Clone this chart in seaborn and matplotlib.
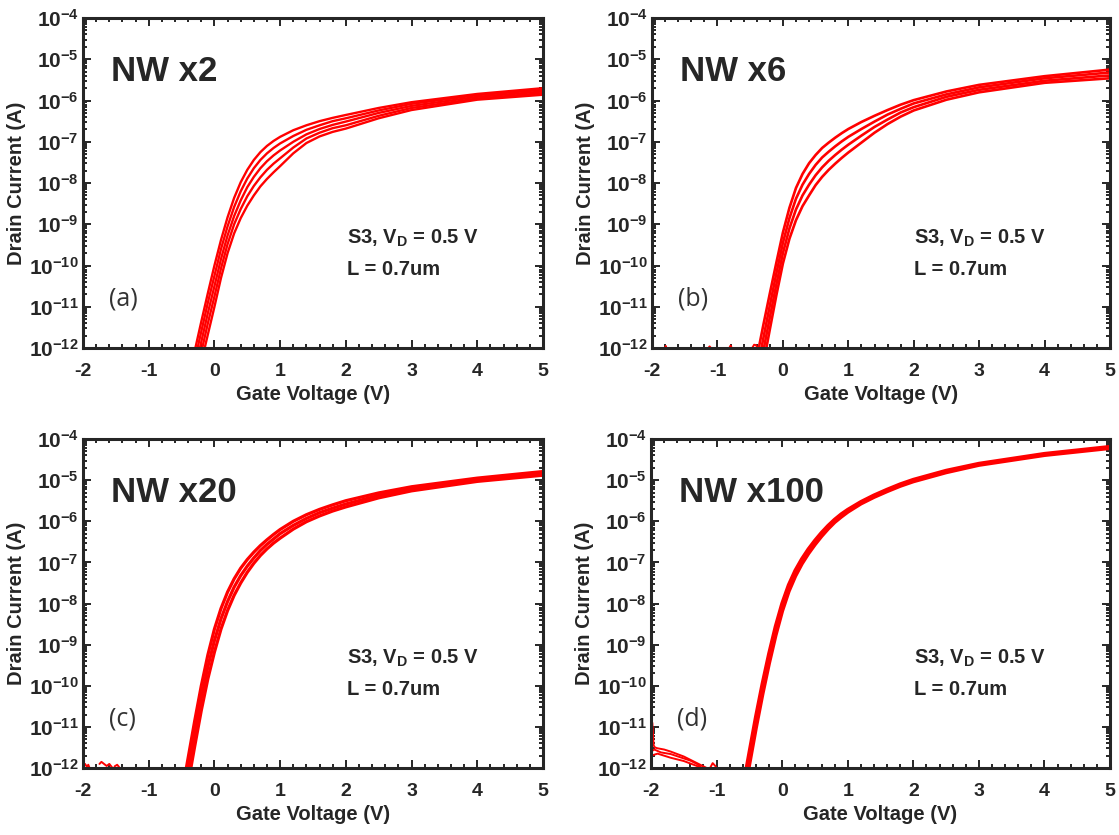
import numpy as np
import pandas as pd
import seaborn as sns
import matplotlib.pyplot as plt
from matplotlib.ticker import LogLocator, MultipleLocator, NullFormatter

# gate voltage grid (V) shared by all transfer curves
vg = [-0.6, -0.5, -0.4, -0.3, -0.2, -0.1, 0, 0.1, 0.2, 0.3, 0.4, 0.5, 0.6, 0.7,
      0.8, 0.9, 1.0, 1.2, 1.4, 1.6, 1.8, 2.0, 2.5, 3, 4, 5]

# log10 of drain current (A), a few curves
nw2_curves = [
    [-14.2, -13.5, -12.8, -12.07, -11.36, -10.67, -10.0, -9.38, -8.83, -8.36, -7.98, -7.68, -7.44,
     -7.25, -7.1, -6.98, -6.88, -6.72, -6.6, -6.5, -6.42, -6.35, -6.18, -6.04, -5.84, -5.70],
    [-14.45, -13.75, -13.05, -12.3, -11.6, -10.9, -10.25, -9.6, -9.05, -8.58, -8.2, -7.89, -7.64,
     -7.44, -7.28, -7.15, -7.04, -6.86, -6.71, -6.6, -6.5, -6.43, -6.24, -6.08, -5.87, -5.74],
    [-14.7, -14.0, -13.3, -12.55, -11.85, -11.15, -10.5, -9.84, -9.27, -8.8, -8.42, -8.1, -7.85,
     -7.64, -7.47, -7.33, -7.21, -7.0, -6.82, -6.69, -6.59, -6.51, -6.3, -6.13, -5.91, -5.78],
    [-14.95, -14.25, -13.55, -12.8, -12.1, -11.4, -10.75, -10.07, -9.48, -9.0, -8.63, -8.32, -8.07,
     -7.86, -7.68, -7.53, -7.4, -7.14, -6.92, -6.78, -6.67, -6.6, -6.37, -6.18, -5.95, -5.82],
    [-15.2, -14.5, -13.8, -13.05, -12.35, -11.67, -11.0, -10.3, -9.7, -9.22, -8.85, -8.55, -8.3,
     -8.08, -7.9, -7.74, -7.59, -7.28, -7.03, -6.87, -6.76, -6.68, -6.43, -6.23, -5.98, -5.86],
]
nw6_curves = [
    [-14.0, -13.1, -12.25, -11.45, -10.68, -9.93, -9.2, -8.6, -8.12, -7.78, -7.52, -7.32, -7.15,
     -7.02, -6.9, -6.79, -6.69, -6.52, -6.37, -6.23, -6.1, -5.99, -5.78, -5.62, -5.41, -5.25],
    [-14.37, -13.47, -12.6, -11.77, -10.97, -10.19, -9.45, -8.85, -8.38, -8.04, -7.78, -7.56, -7.38,
     -7.24, -7.11, -6.99, -6.88, -6.69, -6.51, -6.34, -6.2, -6.07, -5.85, -5.68, -5.46, -5.32],
    [-14.73, -13.83, -12.95, -12.08, -11.26, -10.46, -9.7, -9.1, -8.64, -8.3, -8.04, -7.81, -7.62,
     -7.46, -7.32, -7.19, -7.07, -6.85, -6.64, -6.46, -6.29, -6.16, -5.91, -5.74, -5.52, -5.39],
    [-15.1, -14.2, -13.3, -12.4, -11.55, -10.72, -9.95, -9.35, -8.9, -8.56, -8.3, -8.05, -7.85,
     -7.68, -7.53, -7.39, -7.26, -7.02, -6.78, -6.57, -6.39, -6.24, -5.98, -5.8, -5.57, -5.46],
]
nw20_curves = [
    [-13.5, -12.65, -11.75, -10.85, -10.0, -9.25, -8.62, -8.12, -7.72, -7.4, -7.14, -6.93, -6.75,
     -6.59, -6.45, -6.32, -6.2, -6.0, -5.84, -5.71, -5.6, -5.5, -5.31, -5.16, -4.95, -4.79],
    [-13.8, -12.95, -12.06, -11.16, -10.3, -9.54, -8.9, -8.37, -7.95, -7.6, -7.32, -7.09, -6.89,
     -6.71, -6.56, -6.43, -6.3, -6.1, -5.93, -5.79, -5.68, -5.58, -5.37, -5.21, -4.99, -4.83],
    [-14.1, -13.25, -12.37, -11.47, -10.6, -9.83, -9.18, -8.62, -8.17, -7.8, -7.5, -7.24, -7.02,
     -6.83, -6.67, -6.53, -6.41, -6.19, -6.01, -5.87, -5.75, -5.65, -5.43, -5.26, -5.03, -4.88],
]
nw100_curves = [
    [-12.5, -11.62, -10.75, -9.95, -9.22, -8.56, -8.0, -7.55, -7.2, -6.92, -6.68, -6.47, -6.28,
     -6.11, -5.96, -5.83, -5.72, -5.53, -5.37, -5.23, -5.1, -4.99, -4.77, -4.6, -4.36, -4.19],
    [-12.8, -11.9, -11.02, -10.2, -9.45, -8.77, -8.18, -7.7, -7.33, -7.03, -6.78, -6.56, -6.36,
     -6.18, -6.02, -5.89, -5.77, -5.57, -5.41, -5.27, -5.14, -5.03, -4.81, -4.63, -4.39, -4.22],
]

# off-state noise near the floor: (vg list, log10 current list)
nw6_noise = [
    ([-1.80, -1.79, -1.78], [-12.0, -11.95, -12.0]),
    ([-1.14, -1.12, -1.10], [-12.0, -11.96, -12.0]),
    ([-0.82, -0.80, -0.78], [-12.0, -11.94, -12.0]),
    ([-0.47, -0.44, -0.41, -0.39], [-12.0, -11.92, -11.93, -12.0]),
]
nw20_noise = [
    ([-2.0, -1.97, -1.94, -1.92, -1.90], [-11.95, -11.9, -11.97, -11.92, -12.0]),
    ([-1.75, -1.72, -1.68, -1.64, -1.60, -1.56], [-11.9, -11.85, -11.9, -11.95, -11.9, -11.98]),
    ([-1.52, -1.48, -1.44], [-11.96, -11.92, -12.0]),
]
nw100_noise = [
    ([-2.0, -1.98, -1.96, -1.94, -1.9, -1.8, -1.7, -1.6, -1.5, -1.4, -1.3, -1.2, -1.15],
     [-11.5, -10.9, -11.45, -11.5, -11.52, -11.55, -11.6, -11.66, -11.72, -11.8, -11.88, -11.96, -12.0]),
    ([-2.0, -1.95, -1.85, -1.7, -1.55, -1.4, -1.3, -1.22],
     [-11.6, -11.55, -11.62, -11.66, -11.74, -11.82, -11.9, -12.0]),
    ([-2.0, -1.9, -1.7, -1.5, -1.3, -1.25], [-11.7, -11.65, -11.75, -11.83, -11.95, -12.0]),
    ([-1.1, -1.06, -1.02, -1.0], [-12.0, -11.88, -11.95, -12.0]),
]

panel_titles = ["NW x2", "NW x6", "NW x20", "NW x100"]
panel_tags = ["(a)", "(b)", "(c)", "(d)"]
x_ticks = [-2, -1, 0, 1, 2, 3, 4, 5]
y_exps = [-12, -11, -10, -9, -8, -7, -6, -5, -4]

sns.set_style("ticks")
plt.rcParams["font.family"] = ["Liberation Sans", "DejaVu Sans"]
plt.rcParams["mathtext.fontset"] = "custom"
plt.rcParams["mathtext.rm"] = "Liberation Sans"
plt.rcParams["mathtext.bf"] = "Liberation Sans:bold"
plt.rcParams["axes.unicode_minus"] = False

fig = plt.figure(figsize=(11.19, 8.35), dpi=100)
rects = [
    [0.0742, 0.5832, 0.4110, 0.3952],
    [0.5827, 0.5832, 0.4093, 0.3952],
    [0.0742, 0.0802, 0.4110, 0.3940],
    [0.5818, 0.0802, 0.4102, 0.3940],
]
all_curves = [nw2_curves, nw6_curves, nw20_curves, nw100_curves]
all_noise = [[], nw6_noise, nw20_noise, nw100_noise]
line_w = [1.7, 1.9, 2.3, 2.8]

for i in range(4):
    ax = fig.add_axes(rects[i])

    rows = []
    for k, c in enumerate(all_curves[i]):
        for v, l in zip(vg, c):
            rows.append({"vg": v, "id": 10 ** l, "curve": k})
    df = pd.DataFrame(rows)
    sns.lineplot(data=df, x="vg", y="id", units="curve", estimator=None,
                 color="#ff0000", lw=line_w[i], ax=ax)

    # noise bits along the bottom
    nrows = []
    for k, (nv, nl) in enumerate(all_noise[i]):
        for v, l in zip(nv, nl):
            nrows.append({"vg": v, "id": 10 ** l, "curve": k})
    if nrows:
        ndf = pd.DataFrame(nrows)
        sns.lineplot(data=ndf, x="vg", y="id", units="curve", estimator=None,
                     sort=False, color="#ff0000", lw=1.4, ax=ax)

    ax.set_yscale("log")
    ax.set_xlim(-2, 5)
    ax.set_ylim(1e-12, 1e-4)

    ax.set_xticks(x_ticks)
    ax.set_xticklabels([str(t) for t in x_ticks], fontsize=14, fontweight="bold")
    ax.xaxis.set_minor_locator(MultipleLocator(0.2))
    ax.set_yticks([10.0 ** e for e in y_exps])
    ax.set_yticklabels([r"$\mathbf{10^{%d}}$" % e for e in y_exps], fontsize=15)
    ax.yaxis.set_minor_locator(LogLocator(base=10, subs=np.arange(2, 10), numticks=20))
    ax.yaxis.set_minor_formatter(NullFormatter())

    ax.tick_params(which="both", direction="in", top=True, right=True, width=1.4)
    ax.tick_params(which="major", length=6)
    ax.tick_params(which="minor", length=3)
    ax.tick_params(axis="x", which="major", pad=11)
    ax.tick_params(axis="y", which="major", pad=3)
    for s in ax.spines.values():
        s.set_linewidth(2.2)

    ax.set_xlabel("Gate Voltage (V)", fontsize=14.5, fontweight="bold", labelpad=3.5)
    ax.set_ylabel("Drain Current (A)", fontsize=14.5, fontweight="bold", labelpad=2)

    ax.text(0.06, 0.839, panel_titles[i], transform=ax.transAxes, fontsize=25,
            fontweight="bold", va="center", ha="left")
    ax.text(0.573, 0.332, r"S3, V$_\mathbf{D}$ = 0.5 V", transform=ax.transAxes,
            fontsize=14.5, fontweight="bold", va="center", ha="left")
    ax.text(0.573, 0.238, "L = 0.7um", transform=ax.transAxes,
            fontsize=14.5, fontweight="bold", va="center", ha="left")
    ax.text(0.057, 0.148, panel_tags[i], transform=ax.transAxes, fontsize=18,
            color="#333333", va="center", ha="left", family=["Open Sans", "DejaVu Sans"])

fig.savefig("out.png", dpi=100)
